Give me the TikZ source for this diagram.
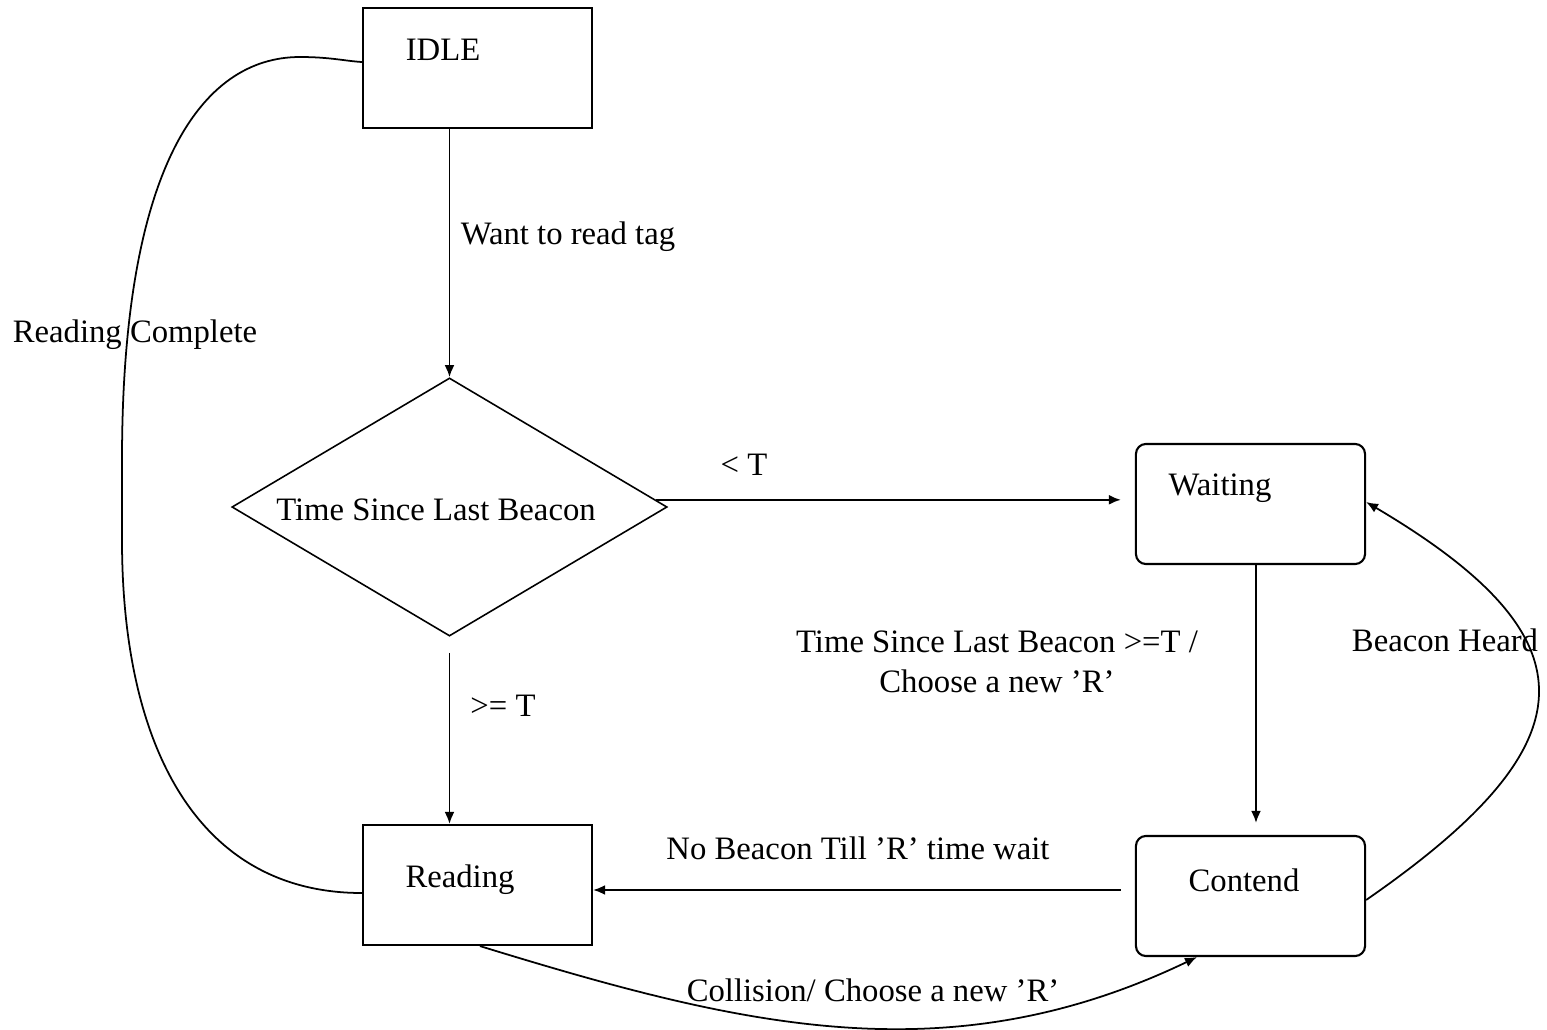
\documentclass[tikz,border=0pt]{standalone}
\usepackage{fontspec}
\setmainfont{Liberation Serif}
\usetikzlibrary{shapes.geometric,arrows.meta,calc}
\begin{document}
\begin{tikzpicture}[x=0.01cm,y=-0.01cm,
  every node/.style={font=\fontsize{9.3}{11.5}\selectfont},
  sqbox/.style={draw, line width=0.6pt, minimum width=2.29cm, minimum height=1.20cm, inner sep=0pt},
  rbox/.style={sqbox, rounded corners=0.1cm},
  decision/.style={draw, diamond, line width=0.45pt, minimum width=4.35cm, minimum height=2.58cm, inner sep=0pt},
  link/.style={line width=0.5pt},
  arr/.style={link, -{Latex[length=3.4pt,width=2.8pt]}},
  lbl/.style={inner sep=0pt}]
\useasboundingbox (0,0) rectangle (1547,1030);

% states
\node[sqbox] (idle) at (477.5,68) {};
\node[lbl] (idletxt) at (443,50) {IDLE};
\node[decision] (dia) at (449.5,507) {};
\node[lbl] (diatxt) at (436,510) {Time Since Last Beacon};
\node[rbox] (wait) at (1250.5,504) {};
\node[lbl] (waittxt) at (1220,488) {Waiting};
\node[rbox] (cont) at (1250.5,896) {};
\node[lbl] (conttxt) at (1244,880) {Contend};
\node[sqbox] (read) at (477.5,885) {};
\node[lbl] (readtxt) at (460,880) {Reading};

% transitions
\draw[arr] (dia.north |- idle.south) -- (dia.north);
\draw[arr, shorten >=0.14cm] (dia.2.5) -- (dia.2.5 -| wait.west);
\draw[arr] ([yshift=-0.16cm]dia.south) -- (dia.south |- read.north);
\coordinate (wc) at ([xshift=0.055cm]wait.south);
\draw[arr, shorten >=0.12cm] (wc) -- (wc |- cont.north);
\coordinate (nb) at ([yshift=0.06cm]cont.west);
\draw[arr, shorten <=0.14cm] (nb) -- (nb -| read.east);
\draw[arr] ([xshift=0.025cm]read.south) .. controls (740,1026) and (947,1077) .. ([xshift=-0.535cm]cont.south);
\draw[arr] ([yshift=-0.04cm]cont.east) .. controls (1590,745) and (1600,640) .. ([yshift=0.02cm]wait.east);
\draw[link] ([yshift=-0.08cm]read.west) .. controls (200,893) and (122,750) .. (122,540)
  -- (122,460) .. controls (122,170) and (200,57) .. (300,57)
  .. controls (330,57) and (345,61) .. ([yshift=0.06cm]idle.west);

% transition labels
\node[lbl] (l1) at (568,237) {Want to read tag};
\node[lbl] (l2) at (135,335) {Reading Complete};
\node[lbl] (l3) at (744,465) {< T};
\node[lbl] (l4) at (503,706) {>= T};
\node[lbl, align=center] (l5) at (997,662) {Time Since Last Beacon >=T /\\Choose a new 'R'};
\node[lbl] (l6) at (1445,640) {Beacon Heard};
\node[lbl] (l7) at (858,848) {No Beacon Till 'R' time wait};
\node[lbl] (l8) at (873,990) {Collision/ Choose a new 'R'};
\end{tikzpicture}
\end{document}
